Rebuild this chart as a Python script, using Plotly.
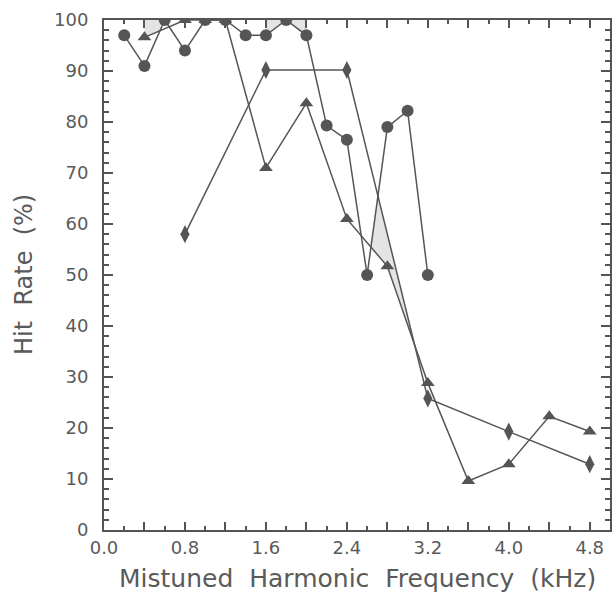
import numpy as np
import plotly.graph_objects as go

# Hit rate (%) against mistuned-harmonic frequency (kHz)
circle_x = [0.2, 0.4, 0.6, 0.8, 1.0, 1.2, 1.4, 1.6, 1.8, 2.0, 2.2, 2.4, 2.6, 2.8, 3.0, 3.2]
circle_y = [97, 91, 100, 94, 100, 100, 97, 97, 100, 97, 79.3, 76.5, 50, 79, 82.2, 50]

triangle_x = [0.4, 0.8, 1.0, 1.2, 1.6, 2.0, 2.4, 2.8, 3.2, 3.6, 4.0, 4.4, 4.8]
triangle_y = [96.6, 100, 100, 100, 71, 83.7, 61, 51.7, 28.8, 9.6, 12.9, 22.3, 19.3]

diamond_x = [0.8, 1.6, 2.4, 3.2, 4.0, 4.8]
diamond_y = [58, 90.2, 90.2, 25.8, 19.3, 12.9]

x_labels = ["0.0", "0.8", "1.6", "2.4", "3.2", "4.0", "4.8"]
y_labels = ["0", "10", "20", "30", "40", "50", "60", "70", "80", "90", "100"]

INK = "#555555"
TEXT = "#5a5a5a"
SHADE = "#e4e4e4"
FONT = "DejaVu Sans"


def curve(xs, ys):
    return lambda x: np.interp(x, xs, ys)


def ceiling(x):
    return np.full_like(np.asarray(x, dtype=float), 100.0)


def band(x0, x1, upper, lower):
    """Polygon between two piecewise-linear curves over [x0, x1]."""
    xs = np.linspace(x0, x1, 400)
    up = upper(xs)
    lo = lower(xs)
    keep = up >= lo
    xs, up, lo = xs[keep], up[keep], lo[keep]
    px = np.concatenate([xs, xs[::-1], xs[:1]])
    py = np.concatenate([up, lo[::-1], up[:1]])
    return px, py


circ = curve(circle_x, circle_y)
tri = curve(triangle_x, triangle_y)
dia = curve(diamond_x, diamond_y)

shaded = [
    band(0.4, 0.56, ceiling, tri),
    band(1.6, 2.0, ceiling, circ),
    band(2.54, 3.2, lambda x: np.minimum(circ(x), dia(x)), tri),
]

fig = go.Figure()

for px, py in shaded:
    fig.add_trace(go.Scatter(x=px, y=py, mode="lines", fill="toself",
                             fillcolor=SHADE, line=dict(width=0),
                             hoverinfo="skip", showlegend=False))

fig.add_trace(go.Scatter(x=diamond_x, y=diamond_y, mode="lines+markers",
                         line=dict(color=INK, width=1.5),
                         marker=dict(symbol="diamond-tall", size=13, color=INK),
                         showlegend=False))
fig.add_trace(go.Scatter(x=triangle_x, y=triangle_y, mode="lines+markers",
                         line=dict(color=INK, width=1.5),
                         marker=dict(symbol="triangle-up", size=12, color=INK),
                         showlegend=False))
fig.add_trace(go.Scatter(x=circle_x, y=circle_y, mode="lines+markers",
                         line=dict(color=INK, width=1.5),
                         marker=dict(symbol="circle", size=12, color=INK),
                         showlegend=False))

x_ticks = dict(
    range=[0, 5.0],
    tickmode="array",
    tickvals=[0.8 * i for i in range(7)] + [0.4 + 0.8 * i for i in range(6)],
    ticks="inside", ticklen=8, tickwidth=1.5, tickcolor=INK,
    minor=dict(dtick=0.2, ticks="inside", ticklen=4, tickwidth=1.5, tickcolor=INK),
    showgrid=False, zeroline=False,
)
y_ticks = dict(
    range=[0, 100],
    tickmode="array",
    tickvals=[10 * i for i in range(11)],
    ticks="inside", ticklen=9, tickwidth=1.5, tickcolor=INK,
    minor=dict(dtick=2, ticks="inside", ticklen=5, tickwidth=1.5, tickcolor=INK),
    showgrid=False, zeroline=False,
)

fig.update_layout(
    width=616, height=596,
    margin=dict(l=104, r=4, t=20, b=66),
    paper_bgcolor="white", plot_bgcolor="white",
    font=dict(family=FONT, size=18, color=TEXT),
    xaxis=dict(
        **x_ticks,
        ticktext=x_labels + [""] * 6,
        showline=True, linecolor=INK, linewidth=2, mirror=True,
        tickfont=dict(size=18, family=FONT, color=TEXT),
    ),
    yaxis=dict(
        **y_ticks,
        ticktext=y_labels,
        ticklabelstandoff=10,
        showline=True, linecolor=INK, linewidth=2, mirror=True,
        tickfont=dict(size=18, family=FONT, color=TEXT),
    ),
    # tick marks repeated on the top and right edges of the frame
    xaxis2=dict(**x_ticks, overlaying="x", side="top", showticklabels=False,
                showline=False),
    yaxis2=dict(**y_ticks, overlaying="y", side="right", showticklabels=False,
                showline=False),
    annotations=[
        dict(text="Mistuned  Harmonic  Frequency  (kHz)", xref="paper", yref="paper",
             x=0.5, y=-0.0, yshift=-48, yanchor="middle", xanchor="center",
             showarrow=False, font=dict(size=25, family=FONT, color=TEXT)),
        dict(text="Hit  Rate  (%)", xref="paper", yref="paper",
             x=0, xshift=-80, y=0.5, textangle=-90, xanchor="center",
             yanchor="middle", showarrow=False,
             font=dict(size=24, family=FONT, color=TEXT)),
    ],
)

# invisible trace to activate the mirrored axes
fig.add_trace(go.Scatter(x=[None], y=[None], xaxis="x2", yaxis="y2",
                         showlegend=False, hoverinfo="skip"))

fig.write_html("out.html")
